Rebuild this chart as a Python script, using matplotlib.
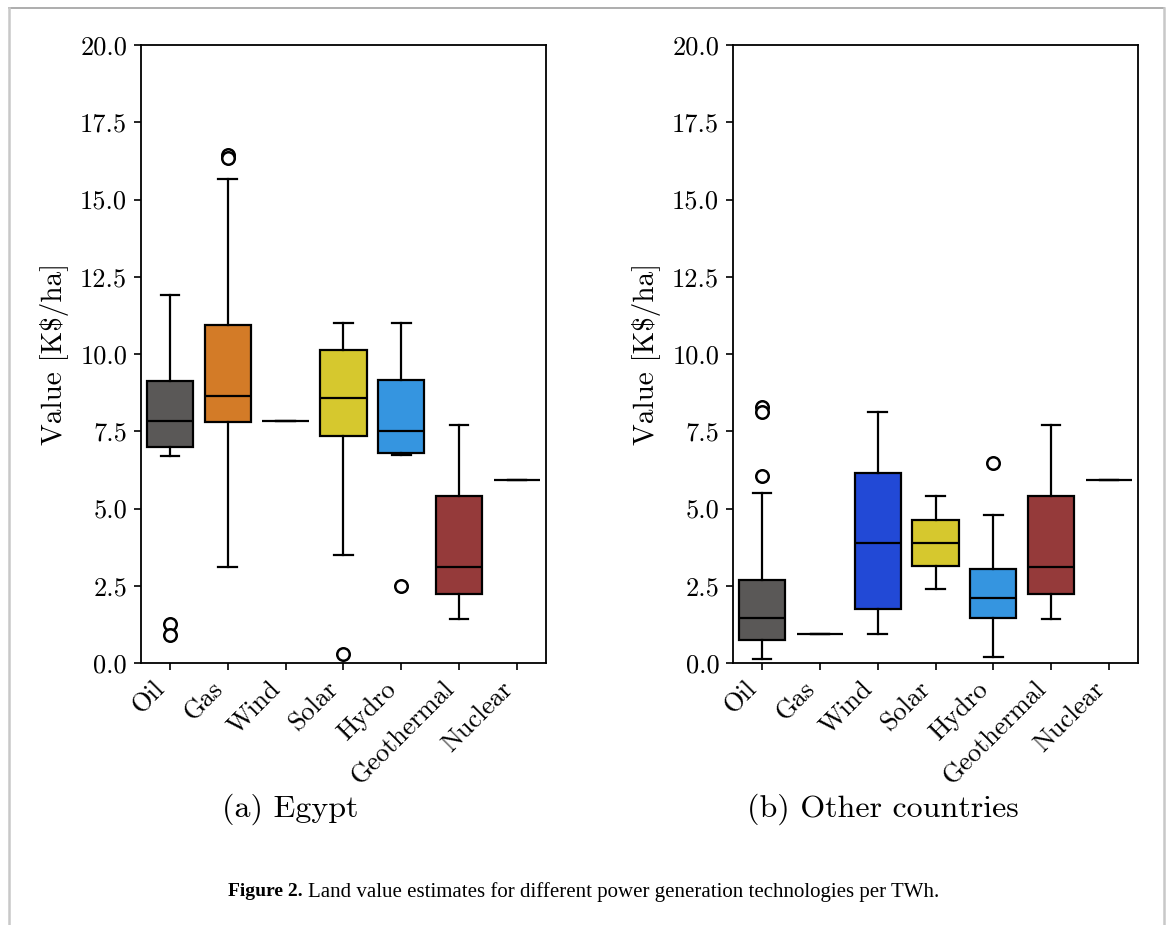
import numpy as np
import matplotlib
matplotlib.use('Agg')
from matplotlib import pyplot as plt
from matplotlib.lines import Line2D

plt.rcParams['font.family'] = ['cmr10', 'DejaVu Serif']
plt.rcParams['axes.formatter.use_mathtext'] = True
plt.rcParams['axes.unicode_minus'] = False

#%% Dados
categorias = ['Oil', 'Gas', 'Wind', 'Solar', 'Hydro', 'Geothermal', 'Nuclear']
cores = ['#5a5857', '#d37b27', '#2249d6', '#d6c82e', '#3595e0', '#953a3a', '#5a5857']

# Egito: whislo, q1, med, q3, whishi, outliers
eg_whislo = [6.71, 3.10, 7.82, 3.50, 6.72, 1.42, 5.92]
eg_q1     = [6.98, 7.81, 7.82, 7.34, 6.80, 2.25, 5.92]
eg_med    = [7.82, 8.63, 7.82, 8.58, 7.51, 3.11, 5.92]
eg_q3     = [9.12, 10.95, 7.82, 10.13, 9.17, 5.41, 5.92]
eg_whishi = [11.91, 15.67, 7.82, 11.00, 11.00, 7.70, 5.92]
eg_fliers = [[1.25, 0.90], [16.45, 16.33], [], [0.28], [2.49], [], []]

# Outros países
ot_whislo = [0.13, 0.93, 0.93, 2.39, 0.21, 1.42, 5.92]
ot_q1     = [0.75, 0.93, 1.74, 3.14, 1.45, 2.25, 5.92]
ot_med    = [1.45, 0.93, 3.90, 3.90, 2.09, 3.11, 5.92]
ot_q3     = [2.68, 0.93, 6.16, 4.63, 3.05, 5.41, 5.92]
ot_whishi = [5.51, 0.93, 8.12, 5.39, 4.78, 7.70, 5.92]
ot_fliers = [[8.29, 8.13, 6.04], [], [], [], [6.47], [], []]

yticks = np.arange(0, 20.01, 2.5)


def monta_stats(wl, q1, med, q3, wh, fl):
    return [dict(whislo=a, q1=b, med=c, q3=d, whishi=e, fliers=f)
            for a, b, c, d, e, f in zip(wl, q1, med, q3, wh, fl)]


def desenha(ax, stats):
    lw = 1.6
    bp = ax.bxp(stats, positions=np.arange(len(stats)), widths=0.8,
                capwidths=0.32, patch_artist=True, showfliers=True,
                boxprops=dict(edgecolor='black', linewidth=lw),
                medianprops=dict(color='black', linewidth=lw),
                whiskerprops=dict(color='black', linewidth=lw),
                capprops=dict(color='black', linewidth=lw),
                flierprops=dict(marker='o', markersize=9, markerfacecolor='white',
                                markeredgecolor='black', markeredgewidth=1.8))
    for caixa, cor, s in zip(bp['boxes'], cores, stats):
        caixa.set_facecolor(cor)
        if s['q1'] == s['q3']:
            caixa.set_visible(False)
    ax.set_xlim(-0.5, len(stats) - 0.5)
    ax.set_ylim(0, 20)
    ax.set_yticks(yticks)
    ax.set_yticklabels([f'{v:.1f}' for v in yticks])
    ax.set_xticks(np.arange(len(stats)))
    ax.set_xticklabels(categorias, rotation=45, ha='right')
    ax.tick_params(labelsize=19, length=5, width=1.2, pad=5)
    ax.set_ylabel('Value [K\\$/ha]', fontsize=21, labelpad=8)
    for sp in ax.spines.values():
        sp.set_linewidth(1.3)


#%% Figura
fig = plt.figure(figsize=(11.68, 9.25), dpi=100)
ax1 = fig.add_axes([0.1207, 0.2832, 0.3467, 0.6681])
ax2 = fig.add_axes([0.6276, 0.2832, 0.3467, 0.6681])

desenha(ax1, monta_stats(eg_whislo, eg_q1, eg_med, eg_q3, eg_whishi, eg_fliers))
desenha(ax2, monta_stats(ot_whislo, ot_q1, ot_med, ot_q3, ot_whishi, ot_fliers))

fig.text(290 / 1168, 1 - 809 / 925, '(a) Egypt', fontsize=23, ha='center', va='center')
fig.text(883 / 1168, 1 - 809 / 925, '(b) Other countries', fontsize=23, ha='center', va='center')

# legenda da figura: parte em negrito + resto logo depois
t_fig = fig.text(228 / 1168, 1 - 892 / 925, 'Figure 2.', fontsize=14, ha='left',
                 va='center', family='Liberation Serif', weight='bold')
fig.canvas.draw()
bb = t_fig.get_window_extent()
fig.text((bb.x1 + 5) / 1168, 1 - 892 / 925,
         'Land value estimates for different power generation technologies per TWh.',
         fontsize=15, ha='left', va='center', family='Liberation Serif')

# moldura da página
fig.add_artist(Line2D([9 / 1168, 1164 / 1168], [1 - 8 / 925, 1 - 8 / 925],
                      color='#a0a0a0', linewidth=1.2, transform=fig.transFigure))
fig.add_artist(Line2D([9 / 1168, 9 / 1168], [0, 1 - 8 / 925],
                      color='#c8c8c8', linewidth=1.8, transform=fig.transFigure))
fig.add_artist(Line2D([1164 / 1168, 1164 / 1168], [0, 1 - 8 / 925],
                      color='#c8c8c8', linewidth=1.8, transform=fig.transFigure))

fig.savefig('out.png', dpi=100)
